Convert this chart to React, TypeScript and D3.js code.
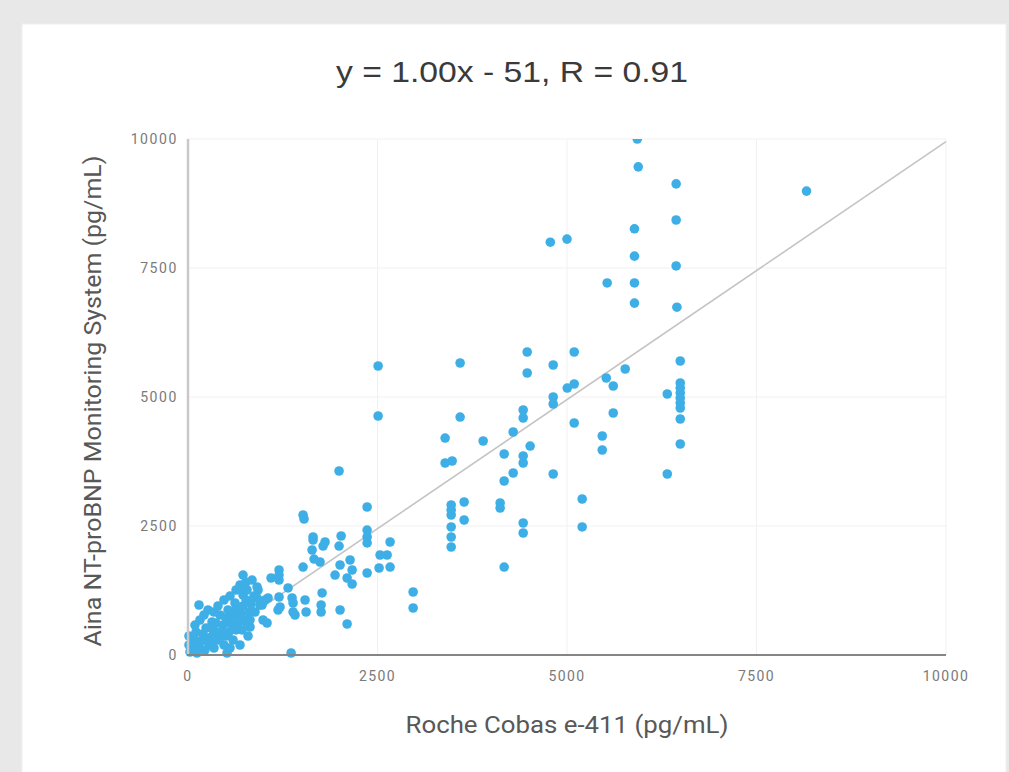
import React, { useEffect, useRef } from "react";
import * as d3 from "d3";

// chart text
const titleText = "y = 1.00x - 51, R = 0.91";
const xTitle = "Roche Cobas e-411 (pg/mL)";
const yTitle = "Aina NT-proBNP Monitoring System (pg/mL)";

const tickValues = [0, 2500, 5000, 7500, 10000];
const slope = 1.0;
const intercept = -51;

// points, [roche, aina]
const upperPoints: [number, number][] = [
  [5927, 10000], [5940, 9460], [6440, 9130], [8160, 8990], [6440, 8430], [5890, 8260],
  [5000, 8060], [4780, 8000], [5890, 7730], [6440, 7540], [5530, 7210], [5890, 7210],
  [5890, 6820], [6450, 6740],
];

const rightPoints: [number, number][] = [
  [5518, 5368], [5610, 5213], [5768, 5543], [5610, 4690], [5465, 4244], [5465, 3973],
  [6323, 5058], [6323, 3508],
  [6494, 5698], [6494, 5271], [6494, 5175], [6494, 5078], [6494, 4981], [6494, 4884],
  [6494, 4787], [6494, 4574], [6494, 4089],
];

const midPoints: [number, number][] = [
  [2508, 5601], [2508, 4632],
  [3590, 5659], [4475, 5872], [4475, 5465], [4818, 5620], [5095, 5872], [5003, 5174],
  [5095, 5252], [4818, 5000], [4818, 4864], [4422, 4748], [4422, 4593], [4290, 4322],
  [5095, 4496], [3392, 4205], [3590, 4612], [3894, 4147], [3392, 3721], [3485, 3760],
  [4171, 3895], [4514, 4050], [4422, 3857], [4422, 3721], [4290, 3527], [4171, 3372],
  [4818, 3508], [3643, 2965], [3643, 2616],
  [3472, 2907], [3472, 2810], [3472, 2713], [3472, 2481], [3472, 2287], [3472, 2093],
  [4118, 2946], [4118, 2849], [4422, 2558], [4422, 2364], [5200, 3023], [5200, 2481],
  [4171, 1705],
];

const lowerMidPoints: [number, number][] = [
  [1993, 3566], [1518, 2713], [1531, 2636], [2363, 2868], [2363, 2422], [2363, 2287],
  [2363, 2171], [2666, 2190], [2534, 1938], [2627, 1938], [2521, 1686], [2666, 1705],
  [2363, 1589], [1650, 2287], [1650, 2229], [1808, 2190], [1782, 2112], [2020, 2306],
  [1993, 2112], [1637, 2035], [1663, 1860], [1742, 1802], [1518, 1705], [2006, 1744],
  [2138, 1841], [2165, 1647], [1940, 1550], [2099, 1492], [2165, 1376], [2970, 1221],
  [2970, 911], [2006, 872], [2099, 601],
];

const lowPoints: [number, number][] = [
  [145, 969], [726, 1550], [1096, 1492], [1201, 1647], [1201, 1550], [1201, 1453],
  [1201, 1124], [713, 1299], [726, 1163], [911, 1318], [911, 1105], [1056, 1105],
  [1320, 1299], [1373, 1105], [1386, 833], [1386, 1008], [1544, 1066], [1558, 833],
  [1769, 1202], [1756, 969], [1756, 833], [1214, 930], [990, 678], [1043, 620],
  [818, 543], [1016, 1066], [950, 969], [1188, 872], [1412, 775], [1360, 39], [515, 39],
];

const clusterPoints: [number, number][] = [
  [26, 58], [53, 194], [79, 329], [106, 446], [145, 136], [172, 271], [198, 407],
  [238, 523], [277, 194], [304, 349], [330, 485], [370, 620], [409, 291], [436, 446],
  [462, 581], [502, 717], [541, 446], [568, 601], [594, 756], [634, 891], [673, 640],
  [700, 795], [726, 950], [766, 1066], [805, 833], [832, 988], [871, 1143], [119, 39],
  [224, 97], [343, 136], [475, 194], [594, 291], [713, 485], [818, 678], [13, 194],
  [13, 368], [251, 291], [383, 446], [528, 872], [620, 1008], [660, 795], [739, 678],
  [779, 1260], [317, 640], [422, 775],
  [92, 581], [158, 678], [211, 775], [264, 872], [343, 833], [396, 950], [475, 1066],
  [554, 1143], [634, 1260], [686, 1357], [845, 1453], [924, 1260], [766, 1415],
  [132, 213], [356, 291], [502, 368], [634, 485], [766, 640], [884, 833], [977, 969],
  [554, 136], [686, 194], [792, 368],
];

const W = 1009;
const H = 772;

export default function App() {
  const ref = useRef<SVGSVGElement>(null);

  useEffect(() => {
    const svg = d3.select(ref.current);
    svg.selectAll("*").remove();

    const left = 188, right = 946, top = 139, bottom = 655;
    const x = d3.scaleLinear().domain([0, 10000]).range([left, right]);
    const y = d3.scaleLinear().domain([0, 10000]).range([bottom, top]);

    svg.append("rect").attr("width", W).attr("height", H).attr("fill", "#e8e8e8");
    svg.append("rect").attr("x", 22).attr("y", 24).attr("width", 984).attr("height", H)
      .attr("fill", "#fff").attr("stroke", "#eef1f1").attr("stroke-width", 1);

    svg.append("text")
      .attr("x", 512).attr("y", 82)
      .attr("text-anchor", "middle")
      .attr("font-family", "Liberation Sans, Arial, sans-serif")
      .attr("font-size", 30)
      .attr("fill", "#3a3a3a")
      .attr("textLength", 352)
      .attr("lengthAdjust", "spacingAndGlyphs")
      .text(titleText);

    // grid
    const grid = svg.append("g").attr("stroke", "#f1f1f1").attr("stroke-width", 1);
    tickValues.filter(d => d > 0).forEach(t => {
      grid.append("line").attr("x1", x(t)).attr("x2", x(t)).attr("y1", top).attr("y2", bottom);
      grid.append("line").attr("x1", left).attr("x2", right).attr("y1", y(t)).attr("y2", y(t));
    });

    // trend line
    svg.append("line")
      .attr("x1", x(-intercept / slope)).attr("y1", y(0))
      .attr("x2", x(10000)).attr("y2", y(slope * 10000 + intercept))
      .attr("stroke", "#c4c4c4").attr("stroke-width", 1.6);

    svg.append("clipPath").attr("id", "clipTop")
      .append("rect").attr("x", 0).attr("y", top).attr("width", W).attr("height", H - top);

    const all = [...upperPoints, ...rightPoints, ...midPoints, ...lowerMidPoints, ...lowPoints, ...clusterPoints];
    svg.append("g").attr("clip-path", "url(#clipTop)")
      .selectAll("circle")
      .data(all)
      .enter()
      .append("circle")
      .attr("cx", d => x(d[0]))
      .attr("cy", d => y(d[1]))
      .attr("r", 4.8)
      .attr("fill", "#3eafe6");

    // axes
    svg.append("line").attr("x1", left).attr("x2", left).attr("y1", top).attr("y2", bottom)
      .attr("stroke", "#c9c9c9").attr("stroke-width", 2.5);
    svg.append("line").attr("x1", left - 1).attr("x2", right).attr("y1", bottom).attr("y2", bottom)
      .attr("stroke", "#858585").attr("stroke-width", 2);

    const tickFont = "Roboto, Liberation Sans, sans-serif";
    svg.append("g").selectAll("text")
      .data(tickValues)
      .enter()
      .append("text")
      .attr("x", left - 10)
      .attr("y", d => y(d) + 5)
      .attr("text-anchor", "end")
      .attr("font-family", tickFont)
      .attr("font-size", 14)
      .attr("letter-spacing", 1.6)
      .attr("fill", "#7a7a7a")
      .text(d => String(d));

    svg.append("g").selectAll("text")
      .data(tickValues)
      .enter()
      .append("text")
      .attr("x", d => x(d))
      .attr("y", 681)
      .attr("text-anchor", "middle")
      .attr("font-family", tickFont)
      .attr("font-size", 14)
      .attr("letter-spacing", 1.4)
      .attr("fill", "#7a7a7a")
      .text(d => String(d));

    svg.append("text")
      .attr("x", (left + right) / 2).attr("y", 733)
      .attr("text-anchor", "middle")
      .attr("font-family", tickFont)
      .attr("font-size", 23)
      .attr("fill", "#585858")
      .attr("textLength", 323)
      .attr("lengthAdjust", "spacingAndGlyphs")
      .text(xTitle);

    svg.append("text")
      .attr("transform", `translate(101, 401) rotate(-90)`)
      .attr("text-anchor", "middle")
      .attr("font-family", tickFont)
      .attr("font-size", 23)
      .attr("fill", "#585858")
      .attr("textLength", 491)
      .attr("lengthAdjust", "spacingAndGlyphs")
      .text(yTitle);
  }, []);

  return (
    <div style={{ position: "fixed", left: 0, top: 0, width: W, height: H }}>
      <svg ref={ref} width={W} height={H}></svg>
    </div>
  );
}
